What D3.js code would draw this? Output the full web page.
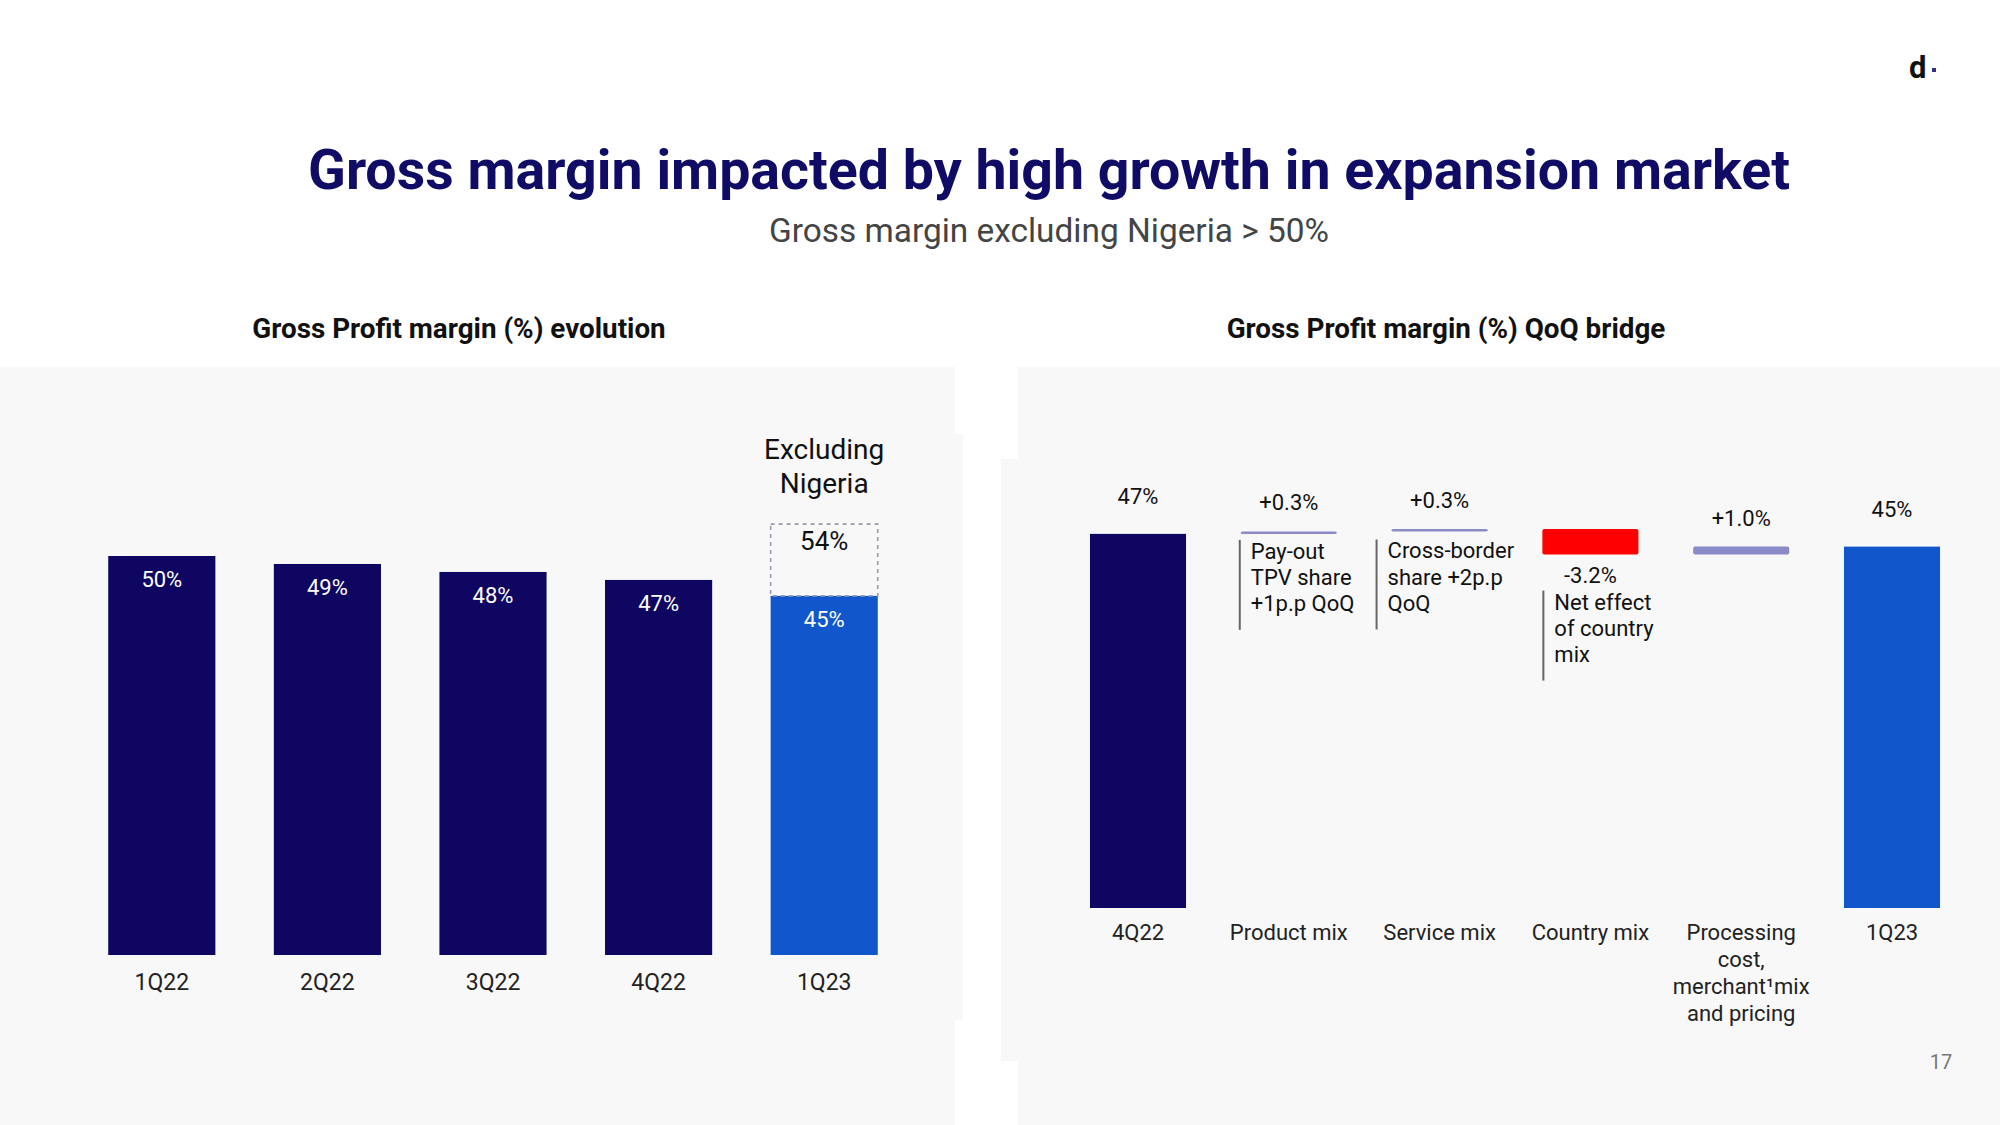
<!DOCTYPE html>
<html><head><meta charset="utf-8">
<script src="https://cdn.jsdelivr.net/npm/d3@7"></script>
<style>
body{margin:0;background:#fff;}
svg{display:block;font-family:Roboto,"Noto Sans",sans-serif;}
</style>
</head><body>
<svg id="c" width="2000" height="1125"></svg>
<script>
// ---- Data ----
const evoCategories = ["1Q22", "2Q22", "3Q22", "4Q22", "1Q23"];
const evoValues = [50, 49, 48, 47, 45];
const evoLabels = ["50%", "49%", "48%", "47%", "45%"];
const exNigeriaValue = 54;
const exNigeriaLabel = "54%";

const bridgeCategories = ["4Q22", "Product mix", "Service mix", "Country mix", "Processing", "1Q23"];
const bridgeTickLines = [["4Q22"], ["Product mix"], ["Service mix"], ["Country mix"],
  ["Processing", "cost,", "merchant\u00B9mix", "and pricing"], ["1Q23"]];
const bridgeStart = 47.0;
const bridgeDeltas = [0.3, 0.3, -3.2, 1.0];
const bridgeLabels = ["47%", "+0.3%", "+0.3%", "-3.2%", "+1.0%", "45%"];
const bridgeNotes = [
  ["Pay-out", "TPV share", "+1p.p QoQ"],
  ["Cross-border", "share +2p.p", "QoQ"],
  ["Net effect", "of country", "mix"]
];

// ---- Setup ----
const svg = d3.select("#c");
const NAVY = "#0e0660", BLUE = "#1256cc", RED = "#ff0000", LAV = "#8b8bc8", BG = "#f8f8f8";

// panel backgrounds
svg.append("rect").attr("x", 0).attr("y", 367).attr("width", 955).attr("height", 758).attr("fill", BG);
svg.append("rect").attr("x", 955).attr("y", 434).attr("width", 8).attr("height", 586).attr("fill", BG);
svg.append("rect").attr("x", 1018).attr("y", 367).attr("width", 982).attr("height", 758).attr("fill", BG);
svg.append("rect").attr("x", 1001).attr("y", 459).attr("width", 17).attr("height", 602).attr("fill", BG);

// titles
svg.append("text").attr("x", 1049).attr("y", 189).attr("text-anchor", "middle")
  .attr("font-size", 55.5).attr("font-weight", 700).attr("fill", "#100c66")
  .text("Gross margin impacted by high growth in expansion market");
svg.append("text").attr("x", 1049).attr("y", 242).attr("text-anchor", "middle")
  .attr("font-size", 33.4).attr("fill", "#444")
  .text("Gross margin excluding Nigeria > 50%");
svg.append("text").attr("x", 459).attr("y", 338).attr("text-anchor", "middle")
  .attr("font-size", 27.8).attr("font-weight", 700).attr("fill", "#111")
  .text("Gross Profit margin (%) evolution");
svg.append("text").attr("x", 1446).attr("y", 338).attr("text-anchor", "middle")
  .attr("font-size", 27.8).attr("font-weight", 700).attr("fill", "#111")
  .text("Gross Profit margin (%) QoQ bridge");

// logo & page number
svg.append("text").attr("x", 1909).attr("y", 78).attr("font-size", 31).attr("font-weight", 700).attr("fill", "#111").text("d");
svg.append("rect").attr("x", 1932).attr("y", 68).attr("width", 4).attr("height", 4).attr("fill", "#3a2d8a");
svg.append("text").attr("x", 1941).attr("y", 1069).attr("text-anchor", "middle")
  .attr("font-size", 20).attr("fill", "#777").text("17");

// ---- Left chart: evolution ----
const xL = d3.scaleBand().domain(evoCategories).range([79, 907]).paddingInner(0.353).paddingOuter(0.1765);
const yL = d3.scaleLinear().domain([0, 100]).range([955, 157]);
const gL = svg.append("g");

gL.selectAll("rect.bar").data(evoCategories).join("rect").attr("class", "bar")
  .attr("x", d => xL(d)).attr("width", xL.bandwidth())
  .attr("y", (d, i) => yL(evoValues[i]))
  .attr("height", (d, i) => yL(0) - yL(evoValues[i]))
  .attr("fill", (d, i) => i === evoCategories.length - 1 ? BLUE : NAVY);

gL.selectAll("text.val").data(evoCategories).join("text").attr("class", "val")
  .attr("x", d => xL(d) + xL.bandwidth() / 2)
  .attr("y", (d, i) => yL(evoValues[i]) + 31)
  .attr("text-anchor", "middle").attr("font-size", 22).attr("fill", "#fff")
  .text((d, i) => evoLabels[i]);

// excluding Nigeria dashed box
const last = evoCategories[evoCategories.length - 1];
gL.append("rect")
  .attr("x", xL(last)).attr("width", xL.bandwidth())
  .attr("y", yL(exNigeriaValue)).attr("height", yL(evoValues[evoValues.length - 1]) - yL(exNigeriaValue))
  .attr("fill", "none").attr("stroke", "#9a9ab4").attr("stroke-width", 1.6).attr("stroke-dasharray", "4,4");
gL.append("text").attr("x", xL(last) + xL.bandwidth() / 2).attr("y", yL(exNigeriaValue) + 26)
  .attr("text-anchor", "middle").attr("font-size", 26).attr("fill", "#111").text(exNigeriaLabel);
const exT = gL.append("text").attr("x", xL(last) + xL.bandwidth() / 2).attr("y", 459)
  .attr("text-anchor", "middle").attr("font-size", 28).attr("fill", "#111");
exT.append("tspan").attr("x", xL(last) + xL.bandwidth() / 2).text("Excluding");
exT.append("tspan").attr("x", xL(last) + xL.bandwidth() / 2).attr("dy", 34).text("Nigeria");

// axis labels (left)
const axL = d3.axisBottom(xL).tickSize(0).tickPadding(0);
const axLg = gL.append("g").attr("transform", "translate(0,955)").call(axL);
axLg.select(".domain").remove();
axLg.selectAll("text").attr("font-size", 23).attr("fill", "#222").attr("font-family", "Roboto").attr("dy", 0).attr("y", 35);

// ---- Right chart: bridge ----
const xR = d3.scaleBand().domain(bridgeCategories).range([1062.6, 1967.4]).paddingInner(0.363).paddingOuter(0.1815);
const yR = d3.scaleLinear().domain([0, 100]).range([908, 112]);
const gR = svg.append("g");

// compute waterfall segments
const segs = [];
let run = bridgeStart;
segs.push({cat: bridgeCategories[0], y0: 0, y1: bridgeStart, type: "total"});
bridgeDeltas.forEach((d, i) => {
  segs.push({cat: bridgeCategories[i + 1], y0: run, y1: run + d, type: d >= 0 ? "pos" : "neg"});
  run += d;
});
segs.push({cat: bridgeCategories[bridgeCategories.length - 1], y0: 0, y1: run, type: "total"});

gR.selectAll("rect.wf").data(segs).join("rect").attr("class", "wf")
  .attr("x", d => xR(d.cat)).attr("width", xR.bandwidth())
  .attr("y", d => yR(Math.max(d.y0, d.y1)))
  .attr("height", d => Math.abs(yR(d.y0) - yR(d.y1)))
  .attr("rx", d => d.type === "total" ? 0 : 2)
  .attr("fill", (d, i) => d.type === "neg" ? RED : d.type === "pos" ? LAV : (i === 0 ? NAVY : BLUE));

gR.selectAll("text.wv").data(segs).join("text").attr("class", "wv")
  .attr("x", d => xR(d.cat) + xR.bandwidth() / 2)
  .attr("y", d => d.type === "total" ? yR(d.y1) - 30 : d.type === "pos" ? yR(d.y1) - 21 : yR(d.y1) + 28)
  .attr("text-anchor", "middle").attr("font-size", 22).attr("fill", "#111")
  .text((d, i) => bridgeLabels[i]);

// annotations with vertical rule
const noteLayout = [{dx: -1, gap: 6}, {dx: -15, gap: 8}, {dx: 1, gap: 36}];
bridgeNotes.forEach((lines, k) => {
  const s = segs[k + 1];
  const x0 = xR(s.cat) + noteLayout[k].dx;
  const top = yR(Math.min(s.y0, s.y1)) + noteLayout[k].gap;
  gR.append("line").attr("x1", x0).attr("x2", x0).attr("y1", top).attr("y2", top + 90)
    .attr("stroke", "#666").attr("stroke-width", 2);
  const t = gR.append("text").attr("font-size", 22).attr("fill", "#111");
  lines.forEach((ln, j) => t.append("tspan").attr("x", x0 + 11).attr("y", top + 19 + j * 26.1).text(ln));
});

// category labels (right)
const axR = d3.axisBottom(xR).tickSize(0).tickPadding(0).tickFormat(() => "");
const axRg = gR.append("g").attr("transform", "translate(0,908)").call(axR);
axRg.select(".domain").remove();
axRg.selectAll(".tick").each(function(d, i) {
  const t = d3.select(this).select("text").attr("font-size", 22).attr("fill", "#222")
    .attr("font-family", "Roboto").attr("dy", 0).attr("y", null);
  bridgeTickLines[i].forEach((ln, j) => t.append("tspan").attr("x", 0).attr("y", 32 + j * 27).text(ln));
});
</script>
</body></html>
